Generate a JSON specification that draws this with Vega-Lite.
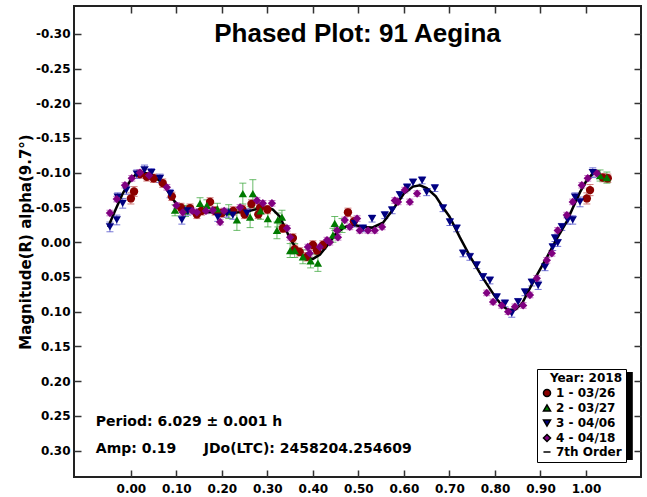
{
  "$schema": "https://vega.github.io/schema/vega-lite/v6.json",
  "width": 567,
  "height": 471,
  "autosize": {"type": "none"},
  "padding": {"left": 74, "top": 6, "right": 6, "bottom": 20},
  "background": "white",
  "config": {
    "view": {"stroke": "#222222", "strokeWidth": 2},
    "axis": {"domain": false, "grid": false, "tickColor": "#333333", "tickWidth": 1.5, "tickSize": -7,
      "labelFont": "DejaVu Sans", "labelFontWeight": "bold", "labelFontSize": 12, "labelColor": "black",
      "titleFont": "DejaVu Sans", "titleFontWeight": "bold", "titleFontSize": 15, "titleColor": "black"}
  },
  "datasets": {
    "pts": [
      {"s": "1 - 03/26", "x": 0.000, "y": -0.063, "e": 0.008},
      {"s": "1 - 03/26", "x": 0.007, "y": -0.073, "e": 0.007},
      {"s": "1 - 03/26", "x": 0.020, "y": -0.098, "e": 0.006},
      {"s": "1 - 03/26", "x": 0.035, "y": -0.094, "e": 0.006},
      {"s": "1 - 03/26", "x": 0.050, "y": -0.092, "e": 0.006},
      {"s": "1 - 03/26", "x": 0.070, "y": -0.085, "e": 0.006},
      {"s": "1 - 03/26", "x": 0.090, "y": -0.066, "e": 0.006},
      {"s": "1 - 03/26", "x": 0.110, "y": -0.050, "e": 0.006},
      {"s": "1 - 03/26", "x": 0.130, "y": -0.049, "e": 0.006},
      {"s": "1 - 03/26", "x": 0.145, "y": -0.040, "e": 0.006},
      {"s": "1 - 03/26", "x": 0.155, "y": -0.045, "e": 0.006},
      {"s": "1 - 03/26", "x": 0.174, "y": -0.058, "e": 0.006},
      {"s": "1 - 03/26", "x": 0.185, "y": -0.045, "e": 0.006},
      {"s": "1 - 03/26", "x": 0.200, "y": -0.042, "e": 0.006},
      {"s": "1 - 03/26", "x": 0.225, "y": -0.045, "e": 0.006},
      {"s": "1 - 03/26", "x": 0.245, "y": -0.047, "e": 0.006},
      {"s": "1 - 03/26", "x": 0.250, "y": -0.040, "e": 0.006},
      {"s": "1 - 03/26", "x": 0.265, "y": -0.055, "e": 0.006},
      {"s": "1 - 03/26", "x": 0.280, "y": -0.040, "e": 0.006},
      {"s": "1 - 03/26", "x": 0.284, "y": -0.050, "e": 0.006},
      {"s": "1 - 03/26", "x": 0.300, "y": -0.047, "e": 0.006},
      {"s": "1 - 03/26", "x": 0.334, "y": -0.020, "e": 0.006},
      {"s": "1 - 03/26", "x": 0.356, "y": -0.006, "e": 0.006},
      {"s": "1 - 03/26", "x": 0.360, "y": 0.010, "e": 0.006},
      {"s": "1 - 03/26", "x": 0.371, "y": 0.014, "e": 0.006},
      {"s": "1 - 03/26", "x": 0.387, "y": 0.021, "e": 0.006},
      {"s": "1 - 03/26", "x": 0.400, "y": 0.004, "e": 0.006},
      {"s": "1 - 03/26", "x": 0.409, "y": 0.012, "e": 0.006},
      {"s": "1 - 03/26", "x": 0.422, "y": 0.004, "e": 0.006},
      {"s": "1 - 03/26", "x": 0.477, "y": -0.043, "e": 0.006},
      {"s": "1 - 03/26", "x": 0.490, "y": -0.030, "e": 0.006},
      {"s": "1 - 03/26", "x": 1.002, "y": -0.063, "e": 0.008},
      {"s": "1 - 03/26", "x": 1.009, "y": -0.075, "e": 0.008},
      {"s": "1 - 03/26", "x": 1.037, "y": -0.093, "e": 0.006},
      {"s": "1 - 03/26", "x": 1.048, "y": -0.092, "e": 0.006},
      {"s": "2 - 03/27", "x": 0.097, "y": -0.046, "e": 0.008},
      {"s": "2 - 03/27", "x": 0.120, "y": -0.045, "e": 0.008},
      {"s": "2 - 03/27", "x": 0.152, "y": -0.056, "e": 0.008},
      {"s": "2 - 03/27", "x": 0.167, "y": -0.053, "e": 0.008},
      {"s": "2 - 03/27", "x": 0.190, "y": -0.048, "e": 0.008},
      {"s": "2 - 03/27", "x": 0.215, "y": -0.044, "e": 0.010},
      {"s": "2 - 03/27", "x": 0.233, "y": -0.032, "e": 0.015},
      {"s": "2 - 03/27", "x": 0.246, "y": -0.070, "e": 0.015},
      {"s": "2 - 03/27", "x": 0.262, "y": -0.036, "e": 0.015},
      {"s": "2 - 03/27", "x": 0.268, "y": -0.070, "e": 0.020},
      {"s": "2 - 03/27", "x": 0.285, "y": -0.045, "e": 0.012},
      {"s": "2 - 03/27", "x": 0.301, "y": -0.034, "e": 0.012},
      {"s": "2 - 03/27", "x": 0.321, "y": -0.017, "e": 0.012},
      {"s": "2 - 03/27", "x": 0.323, "y": -0.032, "e": 0.010},
      {"s": "2 - 03/27", "x": 0.332, "y": -0.036, "e": 0.010},
      {"s": "2 - 03/27", "x": 0.350, "y": 0.012, "e": 0.010},
      {"s": "2 - 03/27", "x": 0.360, "y": 0.012, "e": 0.010},
      {"s": "2 - 03/27", "x": 0.378, "y": 0.021, "e": 0.010},
      {"s": "2 - 03/27", "x": 0.395, "y": 0.027, "e": 0.010},
      {"s": "2 - 03/27", "x": 0.411, "y": 0.030, "e": 0.012},
      {"s": "2 - 03/27", "x": 0.444, "y": -0.010, "e": 0.010},
      {"s": "2 - 03/27", "x": 0.448, "y": -0.027, "e": 0.010},
      {"s": "2 - 03/27", "x": 0.464, "y": -0.024, "e": 0.010},
      {"s": "2 - 03/27", "x": 1.031, "y": -0.096, "e": 0.008},
      {"s": "2 - 03/27", "x": 1.046, "y": -0.093, "e": 0.008},
      {"s": "3 - 04/06", "x": -0.046, "y": -0.022, "e": 0.007},
      {"s": "3 - 04/06", "x": -0.031, "y": -0.032, "e": 0.007},
      {"s": "3 - 04/06", "x": -0.029, "y": -0.065, "e": 0.006},
      {"s": "3 - 04/06", "x": -0.018, "y": -0.056, "e": 0.007},
      {"s": "3 - 04/06", "x": -0.010, "y": -0.075, "e": 0.006},
      {"s": "3 - 04/06", "x": 0.013, "y": -0.098, "e": 0.006},
      {"s": "3 - 04/06", "x": 0.030, "y": -0.104, "e": 0.007},
      {"s": "3 - 04/06", "x": 0.045, "y": -0.100, "e": 0.006},
      {"s": "3 - 04/06", "x": 0.064, "y": -0.092, "e": 0.006},
      {"s": "3 - 04/06", "x": 0.086, "y": -0.070, "e": 0.006},
      {"s": "3 - 04/06", "x": 0.112, "y": -0.032, "e": 0.006},
      {"s": "3 - 04/06", "x": 0.125, "y": -0.045, "e": 0.006},
      {"s": "3 - 04/06", "x": 0.191, "y": -0.036, "e": 0.006},
      {"s": "3 - 04/06", "x": 0.211, "y": -0.042, "e": 0.006},
      {"s": "3 - 04/06", "x": 0.224, "y": -0.039, "e": 0.006},
      {"s": "3 - 04/06", "x": 0.255, "y": -0.042, "e": 0.006},
      {"s": "3 - 04/06", "x": 0.492, "y": -0.027, "e": 0.005},
      {"s": "3 - 04/06", "x": 0.510, "y": -0.020, "e": 0.005},
      {"s": "3 - 04/06", "x": 0.530, "y": -0.034, "e": 0.005},
      {"s": "3 - 04/06", "x": 0.558, "y": -0.039, "e": 0.005},
      {"s": "3 - 04/06", "x": 0.574, "y": -0.046, "e": 0.005},
      {"s": "3 - 04/06", "x": 0.591, "y": -0.068, "e": 0.005},
      {"s": "3 - 04/06", "x": 0.607, "y": -0.079, "e": 0.005},
      {"s": "3 - 04/06", "x": 0.620, "y": -0.086, "e": 0.005},
      {"s": "3 - 04/06", "x": 0.640, "y": -0.089, "e": 0.005},
      {"s": "3 - 04/06", "x": 0.650, "y": -0.072, "e": 0.005},
      {"s": "3 - 04/06", "x": 0.668, "y": -0.078, "e": 0.005},
      {"s": "3 - 04/06", "x": 0.686, "y": -0.049, "e": 0.005},
      {"s": "3 - 04/06", "x": 0.701, "y": -0.029, "e": 0.005},
      {"s": "3 - 04/06", "x": 0.716, "y": -0.020, "e": 0.005},
      {"s": "3 - 04/06", "x": 0.730, "y": 0.016, "e": 0.005},
      {"s": "3 - 04/06", "x": 0.745, "y": 0.021, "e": 0.005},
      {"s": "3 - 04/06", "x": 0.760, "y": 0.033, "e": 0.005},
      {"s": "3 - 04/06", "x": 0.774, "y": 0.050, "e": 0.005},
      {"s": "3 - 04/06", "x": 0.789, "y": 0.055, "e": 0.005},
      {"s": "3 - 04/06", "x": 0.804, "y": 0.079, "e": 0.005},
      {"s": "3 - 04/06", "x": 0.822, "y": 0.088, "e": 0.005},
      {"s": "3 - 04/06", "x": 0.837, "y": 0.102, "e": 0.006},
      {"s": "3 - 04/06", "x": 0.851, "y": 0.086, "e": 0.005},
      {"s": "3 - 04/06", "x": 0.866, "y": 0.072, "e": 0.005},
      {"s": "3 - 04/06", "x": 0.881, "y": 0.058, "e": 0.005},
      {"s": "3 - 04/06", "x": 0.895, "y": 0.062, "e": 0.006},
      {"s": "3 - 04/06", "x": 0.910, "y": 0.036, "e": 0.005},
      {"s": "3 - 04/06", "x": 0.927, "y": 0.007, "e": 0.005},
      {"s": "3 - 04/06", "x": 0.932, "y": -0.006, "e": 0.005},
      {"s": "3 - 04/06", "x": 0.938, "y": 0.001, "e": 0.005},
      {"s": "3 - 04/06", "x": 0.947, "y": -0.022, "e": 0.005},
      {"s": "3 - 04/06", "x": 0.960, "y": -0.032, "e": 0.006},
      {"s": "3 - 04/06", "x": 0.971, "y": -0.032, "e": 0.006},
      {"s": "3 - 04/06", "x": 0.976, "y": -0.065, "e": 0.006},
      {"s": "3 - 04/06", "x": 0.987, "y": -0.058, "e": 0.007},
      {"s": "3 - 04/06", "x": 1.015, "y": -0.100, "e": 0.007},
      {"s": "4 - 04/18", "x": -0.046, "y": -0.042, "e": 0.004},
      {"s": "4 - 04/18", "x": -0.031, "y": -0.062, "e": 0.004},
      {"s": "4 - 04/18", "x": -0.013, "y": -0.082, "e": 0.004},
      {"s": "4 - 04/18", "x": 0.002, "y": -0.092, "e": 0.004},
      {"s": "4 - 04/18", "x": 0.020, "y": -0.100, "e": 0.004},
      {"s": "4 - 04/18", "x": 0.040, "y": -0.096, "e": 0.004},
      {"s": "4 - 04/18", "x": 0.079, "y": -0.079, "e": 0.004},
      {"s": "4 - 04/18", "x": 0.100, "y": -0.053, "e": 0.004},
      {"s": "4 - 04/18", "x": 0.114, "y": -0.043, "e": 0.004},
      {"s": "4 - 04/18", "x": 0.135, "y": -0.045, "e": 0.004},
      {"s": "4 - 04/18", "x": 0.145, "y": -0.043, "e": 0.004},
      {"s": "4 - 04/18", "x": 0.165, "y": -0.045, "e": 0.004},
      {"s": "4 - 04/18", "x": 0.180, "y": -0.046, "e": 0.004},
      {"s": "4 - 04/18", "x": 0.196, "y": -0.029, "e": 0.004},
      {"s": "4 - 04/18", "x": 0.205, "y": -0.045, "e": 0.004},
      {"s": "4 - 04/18", "x": 0.240, "y": -0.050, "e": 0.004},
      {"s": "4 - 04/18", "x": 0.277, "y": -0.060, "e": 0.004},
      {"s": "4 - 04/18", "x": 0.290, "y": -0.056, "e": 0.004},
      {"s": "4 - 04/18", "x": 0.310, "y": -0.056, "e": 0.004},
      {"s": "4 - 04/18", "x": 0.343, "y": -0.020, "e": 0.004},
      {"s": "4 - 04/18", "x": 0.350, "y": -0.007, "e": 0.004},
      {"s": "4 - 04/18", "x": 0.389, "y": 0.007, "e": 0.004},
      {"s": "4 - 04/18", "x": 0.393, "y": 0.016, "e": 0.004},
      {"s": "4 - 04/18", "x": 0.415, "y": 0.007, "e": 0.004},
      {"s": "4 - 04/18", "x": 0.431, "y": -0.003, "e": 0.004},
      {"s": "4 - 04/18", "x": 0.437, "y": 0.000, "e": 0.004},
      {"s": "4 - 04/18", "x": 0.453, "y": -0.017, "e": 0.004},
      {"s": "4 - 04/18", "x": 0.455, "y": -0.007, "e": 0.004},
      {"s": "4 - 04/18", "x": 0.470, "y": -0.032, "e": 0.004},
      {"s": "4 - 04/18", "x": 0.481, "y": -0.022, "e": 0.004},
      {"s": "4 - 04/18", "x": 0.497, "y": -0.034, "e": 0.004},
      {"s": "4 - 04/18", "x": 0.503, "y": -0.017, "e": 0.004},
      {"s": "4 - 04/18", "x": 0.521, "y": -0.017, "e": 0.004},
      {"s": "4 - 04/18", "x": 0.536, "y": -0.017, "e": 0.004},
      {"s": "4 - 04/18", "x": 0.552, "y": -0.022, "e": 0.004},
      {"s": "4 - 04/18", "x": 0.580, "y": -0.060, "e": 0.004},
      {"s": "4 - 04/18", "x": 0.587, "y": -0.058, "e": 0.004},
      {"s": "4 - 04/18", "x": 0.602, "y": -0.075, "e": 0.004},
      {"s": "4 - 04/18", "x": 0.613, "y": -0.058, "e": 0.004},
      {"s": "4 - 04/18", "x": 0.629, "y": -0.070, "e": 0.004},
      {"s": "4 - 04/18", "x": 0.782, "y": 0.073, "e": 0.004},
      {"s": "4 - 04/18", "x": 0.796, "y": 0.086, "e": 0.004},
      {"s": "4 - 04/18", "x": 0.815, "y": 0.091, "e": 0.004},
      {"s": "4 - 04/18", "x": 0.829, "y": 0.100, "e": 0.004},
      {"s": "4 - 04/18", "x": 0.844, "y": 0.093, "e": 0.004},
      {"s": "4 - 04/18", "x": 0.862, "y": 0.091, "e": 0.004},
      {"s": "4 - 04/18", "x": 0.877, "y": 0.076, "e": 0.004},
      {"s": "4 - 04/18", "x": 0.892, "y": 0.052, "e": 0.004},
      {"s": "4 - 04/18", "x": 0.914, "y": 0.026, "e": 0.004},
      {"s": "4 - 04/18", "x": 0.925, "y": 0.016, "e": 0.004},
      {"s": "4 - 04/18", "x": 0.938, "y": -0.017, "e": 0.004},
      {"s": "4 - 04/18", "x": 0.958, "y": -0.039, "e": 0.004},
      {"s": "4 - 04/18", "x": 0.971, "y": -0.058, "e": 0.004},
      {"s": "4 - 04/18", "x": 0.991, "y": -0.082, "e": 0.004},
      {"s": "4 - 04/18", "x": 1.004, "y": -0.092, "e": 0.004},
      {"s": "4 - 04/18", "x": 1.024, "y": -0.099, "e": 0.004}
    ],
    "curve": [
      {"x": -0.050, "y": -0.022}, {"x": -0.035, "y": -0.045}, {"x": -0.018, "y": -0.070},
      {"x": 0.000, "y": -0.090}, {"x": 0.010, "y": -0.097}, {"x": 0.024, "y": -0.101},
      {"x": 0.046, "y": -0.097}, {"x": 0.070, "y": -0.085}, {"x": 0.092, "y": -0.062},
      {"x": 0.108, "y": -0.049}, {"x": 0.136, "y": -0.044}, {"x": 0.180, "y": -0.043},
      {"x": 0.218, "y": -0.042}, {"x": 0.255, "y": -0.044}, {"x": 0.284, "y": -0.049},
      {"x": 0.300, "y": -0.050}, {"x": 0.312, "y": -0.047}, {"x": 0.327, "y": -0.037},
      {"x": 0.350, "y": -0.005}, {"x": 0.370, "y": 0.016}, {"x": 0.385, "y": 0.023},
      {"x": 0.400, "y": 0.024}, {"x": 0.415, "y": 0.018}, {"x": 0.430, "y": 0.006},
      {"x": 0.450, "y": -0.012}, {"x": 0.470, "y": -0.022}, {"x": 0.490, "y": -0.025},
      {"x": 0.510, "y": -0.022}, {"x": 0.530, "y": -0.021}, {"x": 0.554, "y": -0.028},
      {"x": 0.576, "y": -0.047}, {"x": 0.600, "y": -0.070}, {"x": 0.620, "y": -0.080},
      {"x": 0.635, "y": -0.082}, {"x": 0.650, "y": -0.078}, {"x": 0.670, "y": -0.066},
      {"x": 0.686, "y": -0.050}, {"x": 0.700, "y": -0.037}, {"x": 0.723, "y": -0.007},
      {"x": 0.745, "y": 0.020}, {"x": 0.774, "y": 0.052}, {"x": 0.800, "y": 0.078},
      {"x": 0.815, "y": 0.091}, {"x": 0.830, "y": 0.098}, {"x": 0.845, "y": 0.097},
      {"x": 0.860, "y": 0.088}, {"x": 0.870, "y": 0.075}, {"x": 0.890, "y": 0.050},
      {"x": 0.914, "y": 0.022}, {"x": 0.936, "y": -0.005}, {"x": 0.958, "y": -0.030},
      {"x": 0.975, "y": -0.055}, {"x": 0.987, "y": -0.072}, {"x": 1.000, "y": -0.087},
      {"x": 1.015, "y": -0.099}, {"x": 1.030, "y": -0.102}
    ]
  },
  "resolve": {"axis": {"x": "independent", "y": "independent"}},
  "layer": [
    {
      "data": {"name": "pts"},
      "transform": [{"filter": "datum.s === '1 - 03/26'"}],
      "mark": {"type": "errorbar", "ticks": {"size": 7, "thickness": 1}, "thickness": 1, "color": "#c05050", "opacity": 0.75},
      "encoding": {
        "x": {"field": "x", "type": "quantitative", "axis": null,
          "scale": {"domain": [-0.125, 1.121], "nice": false, "zero": false}},
        "y": {"field": "y", "type": "quantitative", "axis": null,
          "scale": {"domain": [-0.34, 0.338], "nice": false, "zero": false, "reverse": true}},
        "yError": {"field": "e"}
      }
    },
    {
      "data": {"name": "pts"},
      "transform": [{"filter": "datum.s === '2 - 03/27'"}],
      "mark": {"type": "errorbar", "ticks": {"size": 7, "thickness": 1}, "thickness": 1, "color": "#3aa53a", "opacity": 0.75},
      "encoding": {
        "x": {"field": "x", "type": "quantitative", "axis": null},
        "y": {"field": "y", "type": "quantitative", "axis": null},
        "yError": {"field": "e"}
      }
    },
    {
      "data": {"name": "pts"},
      "transform": [{"filter": "datum.s === '3 - 04/06'"}],
      "mark": {"type": "errorbar", "ticks": {"size": 7, "thickness": 1}, "thickness": 1, "color": "#4848c8", "opacity": 0.75},
      "encoding": {
        "x": {"field": "x", "type": "quantitative", "axis": null},
        "y": {"field": "y", "type": "quantitative", "axis": null},
        "yError": {"field": "e"}
      }
    },
    {
      "data": {"name": "pts"},
      "transform": [{"filter": "datum.s === '4 - 04/18'"}],
      "mark": {"type": "errorbar", "ticks": {"size": 7, "thickness": 1}, "thickness": 1, "color": "#b050b0", "opacity": 0.75},
      "encoding": {
        "x": {"field": "x", "type": "quantitative", "axis": null},
        "y": {"field": "y", "type": "quantitative", "axis": null},
        "yError": {"field": "e"}
      }
    },
    {
      "data": {"name": "curve"},
      "mark": {"type": "line", "color": "black", "strokeWidth": 2.5},
      "encoding": {
        "x": {"field": "x", "type": "quantitative",
          "axis": {"orient": "top", "labels": false, "title": null, "values": [0, 0.1, 0.2, 0.3, 0.4, 0.5, 0.6, 0.7, 0.8, 0.9, 1.0]}},
        "y": {"field": "y", "type": "quantitative",
          "axis": {"orient": "right", "labels": false, "title": null, "values": [-0.3, -0.25, -0.2, -0.15, -0.1, -0.05, 0, 0.05, 0.1, 0.15, 0.2, 0.25, 0.3]}}
      }
    },
    {
      "data": {"values": [{}]},
      "mark": {"type": "rect", "color": "black"},
      "encoding": {
        "x": {"datum": 0.905, "type": "quantitative", "axis": null},
        "x2": {"datum": 1.103},
        "y": {"datum": 0.187, "type": "quantitative", "axis": null},
        "y2": {"datum": 0.3135}
      }
    },
    {
      "data": {"name": "pts"},
      "mark": {"type": "point", "filled": true, "size": 70, "opacity": 1},
      "encoding": {
        "x": {"field": "x", "type": "quantitative",
          "axis": {"orient": "bottom", "title": null, "labelExpr": "replace(format(datum.value, '.2f'), '\u2212', '-')", "labelPadding": 13, "values": [0, 0.1, 0.2, 0.3, 0.4, 0.5, 0.6, 0.7, 0.8, 0.9, 1.0]}},
        "y": {"field": "y", "type": "quantitative",
          "axis": {"orient": "left", "title": "Magnitude(R) alpha(9.7°)", "titlePadding": 2, "labelExpr": "replace(format(datum.value, '.2f'), '\u2212', '-')", "labelPadding": 11, "values": [-0.3, -0.25, -0.2, -0.15, -0.1, -0.05, 0, 0.05, 0.1, 0.15, 0.2, 0.25, 0.3]}},
        "color": {"field": "s", "type": "nominal",
          "scale": {"domain": ["1 - 03/26", "2 - 03/27", "3 - 04/06", "4 - 04/18", "7th Order"], "range": ["#8b0000", "#007a00", "#000080", "#800080", "#000000"]},
          "legend": {"orient": "none", "legendX": 463, "legendY": 363, "title": "Year: 2018", "titleAnchor": "end",
            "titleFont": "DejaVu Sans", "titleFontSize": 12, "titleFontWeight": "bold", "titleColor": "black", "titlePadding": 2,
            "labelFont": "DejaVu Sans", "labelFontSize": 12, "labelFontWeight": "bold", "labelColor": "black", "labelOffset": 3,
            "strokeColor": "black", "fillColor": "white", "padding": 4, "rowPadding": 1, "symbolSize": 50,
            "symbolStrokeColor": "black", "symbolStrokeWidth": 1.5,
            "encode": {"symbols": {
              "enter": {"stroke": {"signal": "datum.value === '7th Order' ? '#000000' : scale('color', datum.value)"}, "strokeWidth": {"signal": "datum.value === '7th Order' ? 2.5 : 1"}, "size": {"signal": "datum.value === '7th Order' ? 160 : 30"}},
              "update": {"stroke": {"signal": "datum.value === '7th Order' ? '#000000' : scale('color', datum.value)"}, "strokeWidth": {"signal": "datum.value === '7th Order' ? 2.5 : 1"}, "size": {"signal": "datum.value === '7th Order' ? 160 : 30"}}}}}},
        "shape": {"field": "s", "type": "nominal",
          "scale": {"domain": ["1 - 03/26", "2 - 03/27", "3 - 04/06", "4 - 04/18", "7th Order"], "range": ["circle", "triangle-up", "triangle-down", "diamond", "stroke"]}}
      }
    },
    {
      "data": {"values": [{}]},
      "mark": {"type": "text", "align": "center", "baseline": "middle", "font": "Liberation Sans", "fontSize": 26, "fontWeight": "bold", "color": "black"},
      "encoding": {
        "x": {"datum": 0.498, "type": "quantitative", "axis": null},
        "y": {"datum": -0.3, "type": "quantitative", "axis": null},
        "text": {"value": "Phased Plot: 91 Aegina"}
      }
    },
    {
      "data": {"values": [{}]},
      "mark": {"type": "text", "align": "left", "baseline": "middle", "font": "DejaVu Sans", "fontSize": 14, "fontWeight": "bold", "color": "black"},
      "encoding": {
        "x": {"datum": -0.077, "type": "quantitative", "axis": null},
        "y": {"datum": 0.259, "type": "quantitative", "axis": null},
        "text": {"value": "Period: 6.029 ± 0.001 h"}
      }
    },
    {
      "data": {"values": [{}]},
      "mark": {"type": "text", "align": "left", "baseline": "middle", "font": "DejaVu Sans", "fontSize": 14, "fontWeight": "bold", "color": "black"},
      "encoding": {
        "x": {"datum": -0.077, "type": "quantitative", "axis": null},
        "y": {"datum": 0.298, "type": "quantitative", "axis": null},
        "text": {"value": "Amp: 0.19"}
      }
    },
    {
      "data": {"values": [{}]},
      "mark": {"type": "text", "align": "left", "baseline": "middle", "font": "DejaVu Sans", "fontSize": 14, "fontWeight": "bold", "color": "black"},
      "encoding": {
        "x": {"datum": 0.16, "type": "quantitative", "axis": null},
        "y": {"datum": 0.298, "type": "quantitative", "axis": null},
        "text": {"value": "JDo(LTC): 2458204.254609"}
      }
    }
  ]
}
